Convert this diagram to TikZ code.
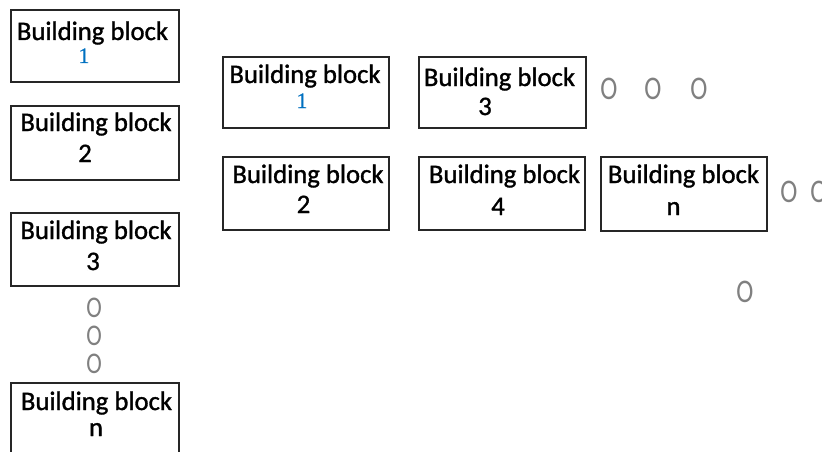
\documentclass[tikz,border=0pt]{standalone}
\usepackage{fontspec}
\setmainfont{Carlito}
\newfontfamily\txtfont[FakeBold=1.2]{Carlito}
\newfontfamily\onefont[FakeBold=0.6]{Liberation Serif}
\newfontfamily\ofont[FakeStretch=0.78]{Carlito}
\definecolor{oneblue}{RGB}{0,112,192}
\begin{document}
\begin{tikzpicture}[x=1pt,y=-1pt,
  blk/.style={draw=black!85, line width=1.1pt, inner sep=0pt, fill=none},
  txt/.style={anchor=base, inner sep=0pt, font=\txtfont\fontsize{26.7}{32}\selectfont, text=black},
  one/.style={anchor=base, inner sep=0pt, font=\onefont\fontsize{22}{26}\selectfont, text=oneblue},
  dots/.style={anchor=center, inner sep=0pt, font=\ofont\fontsize{33}{36}\selectfont, text=black!50},
  vdots/.style={dots, font=\ofont\fontsize{30}{32}\selectfont}]
\useasboundingbox (0,0) rectangle (822,452);
\clip (0,0) rectangle (822,452);
% left column
\node[blk, minimum width=168pt, minimum height=72pt] (L1) at (95,46) {};
\node[blk, minimum width=168pt, minimum height=74pt] (L2) at (95,143) {};
\node[blk, minimum width=168pt, minimum height=73pt] (L3) at (95,249.5) {};
\node[blk, minimum width=168pt, minimum height=90pt] (Ln) at (95,428) {};
\node[txt] (L1a) at (92.5,40) {Building block};
\node[one] (L1b) at (84,63) {1};
\node[txt] (L2a) at (96,131) {Building block};
\node[txt] (L2b) at (85,162) {2};
\node[txt] (L3a) at (96,239) {Building block};
\node[txt] (L3b) at (93,270) {3};
\node[txt] (Lna) at (96.5,410) {Building block};
\node[txt] (Lnb) at (96,436) {n};
\node[vdots] (LO1) at (94,308) {O};
\node[vdots] (LO2) at (94,335.5) {O};
\node[vdots] (LO3) at (94,363.5) {O};
% middle rows
\node[blk, minimum width=166pt, minimum height=71pt] (M1) at (306,92.5) {};
\node[blk, minimum width=167pt, minimum height=71pt] (M3) at (502.5,92.5) {};
\node[blk, minimum width=166pt, minimum height=73pt] (M2) at (306,193.5) {};
\node[blk, minimum width=166pt, minimum height=73pt] (M4) at (502,193.5) {};
\node[blk, minimum width=166pt, minimum height=74pt] (Mn) at (684,194) {};
\node[txt] (M1a) at (305,83) {Building block};
\node[one] (M1b) at (302,108) {1};
\node[txt] (M3a) at (499.5,86) {Building block};
\node[txt] (M3b) at (485,115) {3};
\node[txt] (M2a) at (308,183) {Building block};
\node[txt] (M2b) at (303.5,213) {2};
\node[txt] (M4a) at (504.5,183) {Building block};
\node[txt] (M4b) at (498,215) {4};
\node[txt] (Mna) at (683.5,183) {Building block};
\node[txt] (Mnb) at (673.5,215) {n};
% dots
\node[dots] (RO1) at (609,89) {O};
\node[dots] (RO2) at (653,89) {O};
\node[dots] (RO3) at (699,89) {O};
\node[dots] (RO4) at (789,192) {O};
\node[dots] (RO5) at (819,192) {O};
\node[dots] (RO6) at (745,292) {O};
\end{tikzpicture}
\end{document}
